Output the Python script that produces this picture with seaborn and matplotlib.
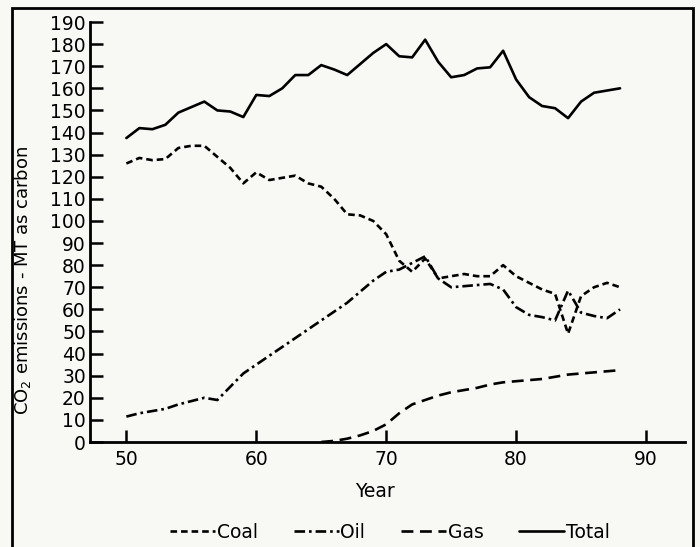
import seaborn as sns
import matplotlib.pyplot as plt
import pandas as pd
from matplotlib.patches import Rectangle

# values (MT as carbon)
years = list(range(1950, 1989))
coal = [126, 128.5, 127.5, 128, 133, 134, 134, 129, 124, 117,
        122, 118.5, 119.5, 120.5, 117, 115.5, 110, 103, 102.5, 100,
        94, 82, 77, 83, 74, 75, 76, 75, 75, 80,
        75, 72, 69, 67, 49, 66, 70, 72, 70]
oil = [11.5, 13, 14, 15, 17, 18.5, 20, 19, 25, 31,
       35, 39, 43, 47, 51, 55, 59, 63, 68, 73,
       77, 78, 81, 84, 74, 70, 70.5, 71, 71.5, 69,
       61, 57.5, 56.5, 55, 68.5, 58.5, 57, 56, 60]
gas_years = list(range(1965, 1989))
gas = [0, 0.5, 1.5, 3, 5, 8, 13, 17, 19, 21,
       22.5, 23.5, 24.5, 26, 27, 27.5, 28, 28.5, 29.5, 30.5,
       31, 31.5, 32, 32.5]
total = [137.5, 142, 141.5, 143.5, 149, 151.5, 154, 150, 149.5, 147,
         157, 156.5, 160, 166, 166, 170.5, 168.5, 166, 171, 176,
         180, 174.5, 174, 182, 172, 165, 166, 169, 169.5, 177,
         164, 156, 152, 151, 146.5, 154, 158, 159, 160]

fuels = ["Coal", "Oil", "Gas", "Total"]

df = pd.concat([
    pd.DataFrame({"Year": [y - 1900 for y in years], "CO2": coal, "Fuel": "Coal"}),
    pd.DataFrame({"Year": [y - 1900 for y in years], "CO2": oil, "Fuel": "Oil"}),
    pd.DataFrame({"Year": [y - 1900 for y in gas_years], "CO2": gas, "Fuel": "Gas"}),
    pd.DataFrame({"Year": [y - 1900 for y in years], "CO2": total, "Fuel": "Total"}),
])

sns.set_style("ticks")
plt.rcParams["font.family"] = ["DejaVu Sans"]
plt.rcParams["text.color"] = "black"
plt.rcParams["axes.labelcolor"] = "black"
bg = "#f8f8f5"

fig = plt.figure(figsize=(7, 5.47), dpi=100, facecolor=bg)
ax = fig.add_axes([90 / 700, 1 - 442 / 547, 595 / 700, 420 / 547])
ax.set_facecolor(bg)

dash_map = {"Coal": (2.5, 1.5), "Oil": (4, 1.5, 1, 1.5), "Gas": (4.5, 2.5), "Total": ""}
sns.lineplot(data=df, x="Year", y="CO2", style="Fuel", style_order=fuels,
             dashes=dash_map, color="black", linewidth=1.9, ax=ax, legend=True)

ax.set_xlim(47.2, 93)
ax.set_ylim(0, 190)
ax.set_xticks(range(50, 91, 10))
ax.set_yticks(range(0, 191, 10))
ax.tick_params(direction="in", length=9, width=1.8, labelsize=13.5, pad=3,
               colors="black", labelcolor="black")
ax.tick_params(axis="x", pad=6)
for s in ["top", "right"]:
    ax.spines[s].set_visible(False)
for s in ["left", "bottom"]:
    ax.spines[s].set_linewidth(2)
    ax.spines[s].set_color("black")

ax.set_xlabel("Year", fontsize=13.5, color="black")
ax.xaxis.set_label_coords(0.479, -0.095)
ax.set_ylabel("CO$_2$ emissions - MT as carbon", fontsize=13, color="black")
ax.yaxis.set_label_coords(-0.095, 0.385)

handles, labels = ax.get_legend_handles_labels()
ax.get_legend().remove()
leg = fig.legend(handles, labels, loc="center", bbox_to_anchor=(390 / 700, 1 - 532 / 547),
                 ncol=4, frameon=False, fontsize=13.5, handlelength=2.4,
                 handletextpad=0.1, columnspacing=1.9)
for t in leg.get_texts():
    t.set_color("black")

# scanned page frame
fig.patches.append(Rectangle((12 / 700, -0.01), 681 / 700, 1 - 8 / 547 + 0.01,
                             transform=fig.transFigure, fill=False,
                             edgecolor="black", linewidth=2))

fig.savefig("out.png", dpi=100, facecolor=bg)
